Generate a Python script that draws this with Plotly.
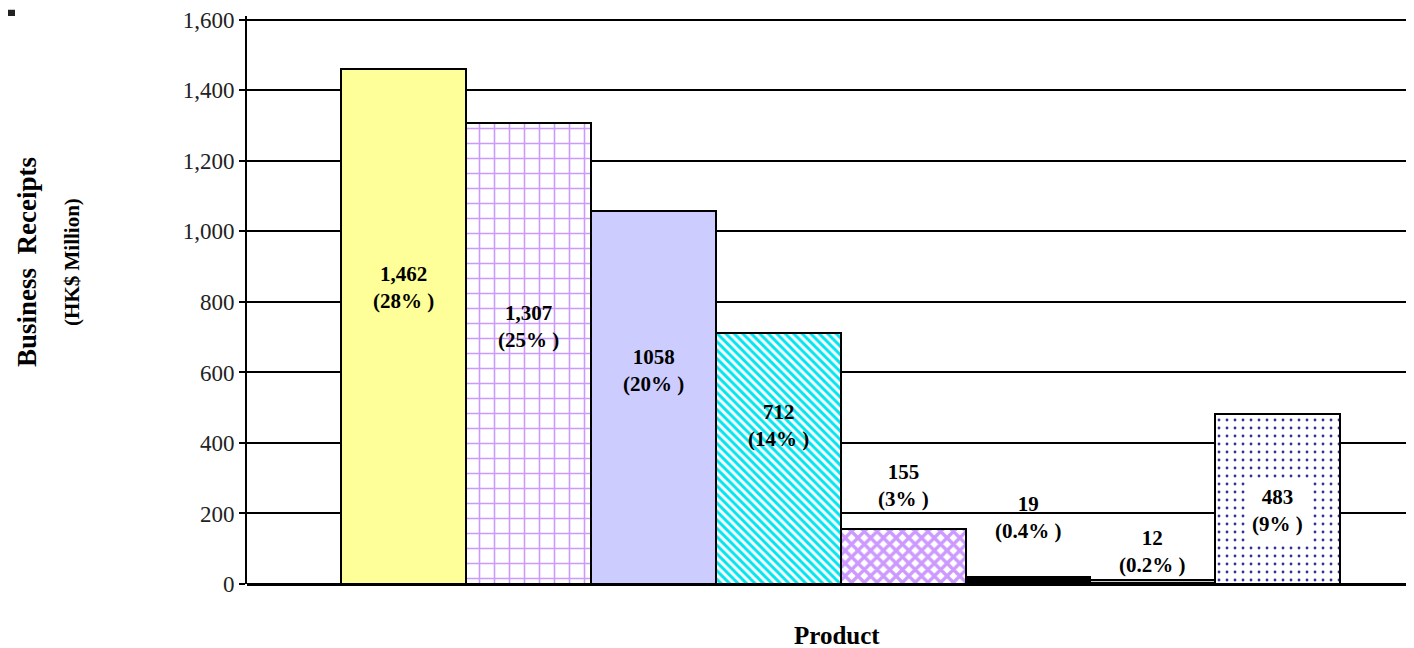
import plotly.graph_objects as go

# ---- data ----
categories = ["P1", "P2", "P3", "P4", "P5", "P6", "P7", "P8"]
receipts = [1462, 1307, 1058, 712, 155, 19, 12, 483]
value_labels = ["1,462", "1,307", "1058", "712", "155", "19", "12", "483"]
share_labels = ["(28% )", "(25% )", "(20% )", "(14% )", "(3% )", "(0.4% )", "(0.2% )", "(9% )"]
y_ticks = [0, 200, 400, 600, 800, 1000, 1200, 1400, 1600]

# ---- styles ----
bar_colors = ["#FFFF99", "white", "#CCCCFF", "white", "white", "black", "white", "white"]
pat_shapes = ["", "+", "", "\\", "x", "", "-", "."]
pat_fg = ["#FFFF99", "#CC99FF", "#CCCCFF", "#00E5F0", "#CC99FF", "black", "black", "#333399"]
pat_size = [8, 15, 8, 6, 9, 8, 6, 8]
pat_sol = [0.3, 0.2, 0.3, 0.5, 0.6, 0.3, 0.4, 0.1]
# label anchor heights (data units) for annotation placement
label_y = [842, 729, 605, 449, 278, 189, 92, 209]

font_family = "Liberation Serif, Times New Roman, serif"

fig = go.Figure()
for i, (cat, val) in enumerate(zip(categories, receipts)):
    marker = dict(color=bar_colors[i], line=dict(color="black", width=2))
    if pat_shapes[i]:
        marker["pattern"] = dict(shape=pat_shapes[i], fgcolor=pat_fg[i],
                                 bgcolor=bar_colors[i], size=pat_size[i],
                                 solidity=pat_sol[i], fgopacity=1,
                                 fillmode="replace")
    fig.add_trace(go.Bar(
        x=[cat], y=[val], width=1, marker=marker,
        hoverinfo="skip", showlegend=False,
    ))

annotations = []
for i, (cat, v, s, ly) in enumerate(zip(categories, value_labels, share_labels, label_y)):
    ann = dict(
        x=cat, y=ly, xref="x", yref="y",
        text=f"<b>{v}<br>{s}</b>", showarrow=False,
        font=dict(family=font_family, size=21, color="black"),
        align="center", xanchor="center", yanchor="middle",
    )
    if i == 7:
        ann.update(bgcolor="white", borderpad=6)
    annotations.append(ann)

annotations += [
    dict(text="<b>Business  Receipts</b>", xref="paper", yref="paper",
         x=-0.1885, y=0.567, textangle=-90, showarrow=False,
         xanchor="center", yanchor="middle",
         font=dict(family=font_family, size=27, color="black")),
    dict(text="<b>(HK$ Million)</b>", xref="paper", yref="paper",
         x=-0.150, y=0.567, textangle=-90, showarrow=False,
         xanchor="center", yanchor="middle",
         font=dict(family=font_family, size=21, color="black")),
    dict(text="<b>Product</b>", xref="paper", yref="paper",
         x=0.5056, y=-0.090, showarrow=False, xanchor="center", yanchor="middle",
         font=dict(family=font_family, size=25, color="black")),
]

fig.update_layout(
    width=1406, height=640,
    margin=dict(l=239, r=0, t=6, b=64),
    paper_bgcolor="white", plot_bgcolor="white",
    bargap=0, barmode="overlay",
    annotations=annotations,
    shapes=[dict(type="rect", xref="paper", yref="paper",
                 x0=-0.2048, x1=-0.1988, y0=1.0, y1=1.011,
                 fillcolor="#222222", line=dict(width=0))],
    font=dict(family=font_family),
)
fig.update_xaxes(
    type="category", categoryorder="array", categoryarray=categories,
    range=[-1.253, 8.09],
    showticklabels=False, showgrid=False, ticks="",
    showline=False, zeroline=False,
)
fig.update_yaxes(
    range=[0, 1611], tickvals=y_ticks, tickformat=",",
    ticklabeloverflow="allow",
    showgrid=True, gridcolor="black", gridwidth=2,
    showline=True, linecolor="black", linewidth=2,
    zeroline=True, zerolinecolor="black", zerolinewidth=3,
    ticks="outside", ticklen=6, tickcolor="black", tickwidth=2,
    tickfont=dict(family=font_family, size=23, color="#222222"),
)

fig.write_html("out.html")
